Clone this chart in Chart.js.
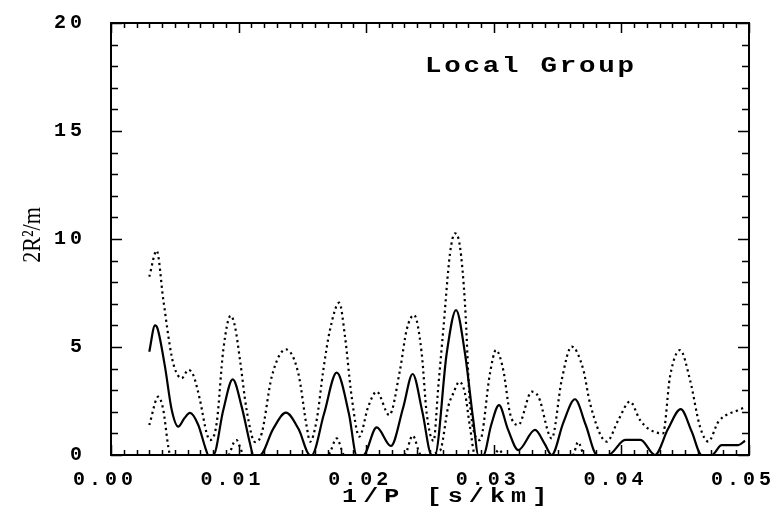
<!DOCTYPE html>
<html>
<head>
<meta charset="utf-8">
<script src="https://cdn.jsdelivr.net/npm/chart.js@4.4.0/dist/chart.umd.min.js"></script>
<style>
  html, body { margin: 0; padding: 0; background: #fff; }
  #wrap { width: 776px; height: 508px; }
</style>
</head>
<body>
<div id="wrap"><canvas id="powerChart" width="776" height="508"></canvas></div>
<script>
// 1/P [s/km] positions and power values for each curve
const solidX = [0.00300, 0.00345, 0.00365, 0.00423, 0.00476, 0.00527, 0.00575, 0.00619, 0.00684, 0.00737,
  0.00763, 0.00802, 0.00880, 0.00954, 0.01024, 0.01089, 0.01115, 0.01168, 0.01270, 0.01371,
  0.01470, 0.01560, 0.01573, 0.01669, 0.01769, 0.01865, 0.01925, 0.01978, 0.02082, 0.02194,
  0.02290, 0.02364, 0.02440, 0.02513, 0.02539, 0.02631, 0.02704, 0.02774, 0.02839, 0.02879,
  0.02918, 0.02980, 0.03041, 0.03110, 0.03192, 0.03323, 0.03400, 0.03454, 0.03545, 0.03636,
  0.03720, 0.03810, 0.03897, 0.04030, 0.04150, 0.04263, 0.04365, 0.04465, 0.04550, 0.04629,
  0.04708, 0.04786, 0.04916, 0.04969];
const solidY = [4.78, 6.0, 5.85, 4.09, 2.08, 1.31, 1.7, 1.95, 1.39, 0.38,
  0, 0, 2.08, 3.5, 2.24, 0.54, 0, 0, 1.2, 1.96,
  1.2, 0, 0, 1.9, 3.81, 1.9, 0, 0, 1.28, 0.42,
  2.2, 3.75, 2.0, 0, 0, 4.71, 6.71, 4.71, 1.62, 0,
  0, 1.4, 2.31, 1.2, 0.23, 1.16, 0.5, 0, 1.5, 2.58,
  1.4, 0, 0, 0.7, 0.7, 0, 1.2, 2.12, 1.1, 0,
  0, 0.46, 0.46, 0.66];

const upperX = [0.00300, 0.00358, 0.00410, 0.00476, 0.00509, 0.00554, 0.00606, 0.00645, 0.00697, 0.00750,
  0.00776, 0.00828, 0.00880, 0.00938, 0.00972, 0.01011, 0.01063, 0.01129, 0.01181, 0.01260,
  0.01371, 0.01468, 0.01534, 0.01560, 0.01612, 0.01664, 0.01716, 0.01789, 0.01834, 0.01886,
  0.01946, 0.02016, 0.02082, 0.02181, 0.02265, 0.02317, 0.02375, 0.02435, 0.02474, 0.02528,
  0.02565, 0.02604, 0.02657, 0.02696, 0.02735, 0.02774, 0.02813, 0.02892, 0.02970, 0.03017,
  0.03074, 0.03127, 0.03192, 0.03297, 0.03350, 0.03454, 0.03532, 0.03610, 0.03702, 0.03754,
  0.03885, 0.03976, 0.04067, 0.04146, 0.04208, 0.04326, 0.04381, 0.04460, 0.04538, 0.04616,
  0.04681, 0.04760, 0.04916, 0.04969];
const upperY = [8.26, 9.46, 7.18, 4.55, 3.86, 3.55, 3.94, 3.7, 2.55, 1.0,
  0.69, 1.47, 4.86, 6.45, 5.94, 4.4, 2.08, 0.6, 1.0, 3.63,
  4.89, 3.78, 1.31, 0.62, 1.62, 3.94, 5.79, 7.05, 5.48, 2.7,
  0.85, 2.24, 2.93, 1.85, 3.94, 5.79, 6.48, 4.71, 1.93, 0.65,
  3.16, 5.79, 9.34, 10.26, 9.64, 7.02, 2.39, 0.69, 3.78, 4.86,
  3.94, 1.93, 1.39, 2.93, 2.7, 0.77, 3.47, 5.02, 3.94, 2.39,
  0.62, 1.62, 2.47, 1.62, 1.23, 1.0, 3.63, 4.86, 3.47, 1.31,
  0.62, 1.54, 2.08, 2.2];

const lowerX = [0.00300, 0.00371, 0.00410, 0.00449, 0.00465, 0.00920, 0.00960, 0.00985, 0.01010, 0.01040,
  0.01700, 0.01769, 0.01830, 0.02300, 0.02364, 0.02430, 0.02578, 0.02643, 0.02683, 0.02730,
  0.02774, 0.02813, 0.02853, 0.03000, 0.03040, 0.03080, 0.03620, 0.03660, 0.03710, 0.04969];
const lowerY = [1.39, 2.7, 2.08, 0.38, 0, 0, 0.55, 0.69, 0.38, 0,
  0, 0.77, 0, 0, 0.9, 0, 0.2, 2.24, 2.86, 3.39,
  2.86, 1.31, 0, 0, 0.25, 0, 0, 0.6, 0, 0];

const xTickValues = [0, 0.01, 0.02, 0.03, 0.04, 0.05];
const yTickValues = [0, 5, 10, 15, 20];

const monoFont = '"Liberation Mono", "DejaVu Sans Mono", monospace';

function toPoints(xs, ys) {
  return xs.map((x, i) => ({ x: x, y: ys[i] }));
}

// draw a line of text stretched horizontally around (x, y)
function wideText(ctx, text, x, y, stretch, spacing, align) {
  ctx.save();
  ctx.translate(x, y);
  ctx.scale(stretch, 1);
  ctx.letterSpacing = spacing + 'px';
  ctx.textAlign = align;
  ctx.fillText(text, 0, 0);
  ctx.restore();
}

// frame, inward ticks on all four sides, titles and the panel label
const framePlugin = {
  id: 'framePlugin',
  beforeDraw(chart) {
    chart.ctx.letterSpacing = '4px';
  },
  afterDraw(chart) {
    const ctx = chart.ctx;
    const area = chart.chartArea;
    const xs = chart.scales.x;
    const ys = chart.scales.y;
    ctx.save();
    ctx.letterSpacing = '0px';
    ctx.strokeStyle = '#000';
    ctx.lineWidth = 1.5;
    ctx.beginPath();
    for (let i = 0; i <= 50; i++) {
      const px = Math.round(xs.getPixelForValue(i * 0.001)) + 0.5;
      const len = i % 10 === 0 ? 10 : 5;
      ctx.moveTo(px, area.bottom);
      ctx.lineTo(px, area.bottom - len);
      ctx.moveTo(px, area.top);
      ctx.lineTo(px, area.top + len);
    }
    for (let j = 0; j <= 20; j++) {
      const py = Math.round(ys.getPixelForValue(j)) + 0.5;
      const len = j % 5 === 0 ? 11 : 7;
      ctx.moveTo(area.left, py);
      ctx.lineTo(area.left + len, py);
      ctx.moveTo(area.right, py);
      ctx.lineTo(area.right - len, py);
    }
    ctx.stroke();
    ctx.lineWidth = 2;
    ctx.strokeRect(area.left, area.top, area.right - area.left, area.bottom - area.top);

    ctx.fillStyle = '#000';
    ctx.textBaseline = 'alphabetic';

    // panel label
    ctx.font = 'bold 22px ' + monoFont;
    wideText(ctx, 'Local Group', 425, 72, 1.25, 2.2, 'left');

    // x axis title
    ctx.font = 'bold 20px ' + monoFont;
    wideText(ctx, '1/P [s/km]', 342, 502, 1.25, 4.9, 'left');

    // y axis title
    ctx.save();
    ctx.translate(40, 235);
    ctx.rotate(-Math.PI / 2);
    ctx.scale(0.85, 1);
    ctx.font = '26px "Liberation Serif", serif';
    ctx.textAlign = 'center';
    ctx.fillText('2R²/m', 0, 0);
    ctx.restore();

    ctx.restore();
  }
};

const ctx = document.getElementById('powerChart').getContext('2d');

const chart = new Chart(ctx, {
  type: 'line',
  data: {
    datasets: [
      {
        label: 'upper',
        data: toPoints(upperX, upperY),
        borderColor: '#000',
        borderWidth: 2.2,
        borderDash: [2.2, 3.5],
        pointRadius: 0,
        cubicInterpolationMode: 'monotone',
        fill: false
      },
      {
        label: 'power',
        data: toPoints(solidX, solidY),
        borderColor: '#000',
        borderWidth: 2.2,
        pointRadius: 0,
        cubicInterpolationMode: 'monotone',
        fill: false
      },
      {
        label: 'lower',
        data: toPoints(lowerX, lowerY),
        borderColor: '#000',
        borderWidth: 2.2,
        borderDash: [2.2, 3.5],
        pointRadius: 0,
        cubicInterpolationMode: 'monotone',
        fill: false
      }
    ]
  },
  options: {
    responsive: false,
    animation: false,
    events: [],
    layout: {
      padding: { top: 23, right: 27, left: 0, bottom: 0 }
    },
    plugins: {
      legend: { display: false },
      tooltip: { enabled: false }
    },
    scales: {
      x: {
        type: 'linear',
        min: 0,
        max: 0.05,
        afterFit(scale) {
          scale.height = 53;
          scale.paddingLeft = 0;
          scale.paddingRight = 0;
        },
        afterBuildTicks(scale) {
          scale.ticks = xTickValues.map(v => ({ value: v }));
        },
        grid: { display: false, drawTicks: false },
        border: { display: false },
        ticks: {
          color: '#000',
          font: { family: monoFont, size: 20, weight: 'bold' },
          padding: 13,
          labelOffset: -6,
          maxRotation: 0,
          callback: v => v.toFixed(2)
        }
      },
      y: {
        type: 'linear',
        min: 0,
        max: 20,
        afterFit(scale) {
          scale.width = 111;
          scale.paddingTop = 0;
          scale.paddingBottom = 0;
        },
        afterBuildTicks(scale) {
          scale.ticks = yTickValues.map(v => ({ value: v }));
        },
        grid: { display: false, drawTicks: false },
        border: { display: false },
        ticks: {
          color: '#000',
          font: { family: monoFont, size: 20, weight: 'bold' },
          padding: 25,
          callback: v => String(v)
        }
      }
    }
  },
  plugins: [framePlugin]
});
</script>
</body>
</html>
